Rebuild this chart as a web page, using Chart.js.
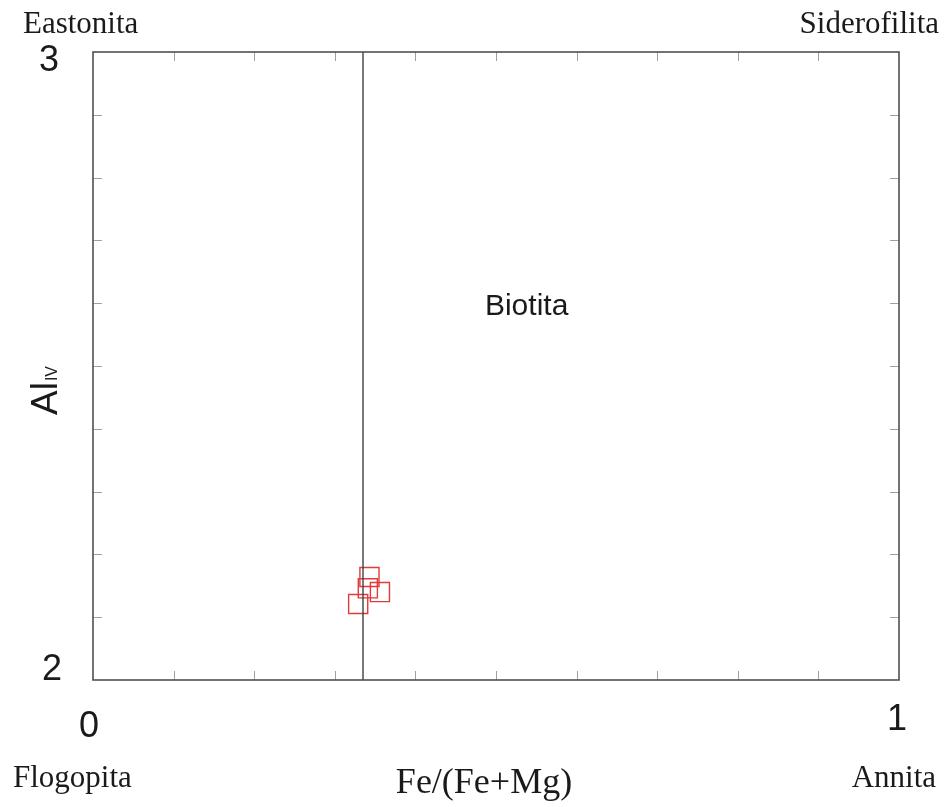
<!DOCTYPE html>
<html>
<head>
<meta charset="utf-8">
<script src="https://cdn.jsdelivr.net/npm/chart.js@4.4.1/dist/chart.umd.min.js"></script>
<style>
  html, body { margin: 0; padding: 0; background: #fff; }
  #wrap { width: 949px; height: 807px; }
</style>
</head>
<body>
<div id="wrap"><canvas id="chartBiotita" width="949" height="807"></canvas></div>
<script>
const feRatio = [0.343, 0.341, 0.356, 0.329];
const alIV = [2.164, 2.146, 2.140, 2.121];
const dividerX = [0.335, 0.335];
const dividerY = [2, 3];
const xTicks = [0.1, 0.2, 0.3, 0.4, 0.5, 0.6, 0.7, 0.8, 0.9];
const yTicks = [2.1, 2.2, 2.3, 2.4, 2.5, 2.6, 2.7, 2.8, 2.9];
const xTickLabels = ['0', '1'];
const yTickLabels = ['2', '3'];
const fieldLabel = 'Biotita';
const fieldPos = [0.538, 2.594];

const frame = {
  id: 'frame',
  afterDatasetsDraw(chart) {
    const ctx = chart.ctx;
    const a = chart.chartArea;
    const xs = chart.scales.x;
    const ys = chart.scales.y;
    ctx.save();

    // ticks hacia adentro
    ctx.strokeStyle = '#a0a0a0';
    ctx.lineWidth = 1;
    ctx.beginPath();
    xTicks.forEach(function(v) {
      const px = Math.round(xs.getPixelForValue(v)) + 0.5;
      ctx.moveTo(px, a.top); ctx.lineTo(px, a.top + 9);
      ctx.moveTo(px, a.bottom); ctx.lineTo(px, a.bottom - 9);
    });
    yTicks.forEach(function(v) {
      const py = Math.round(ys.getPixelForValue(v)) + 0.5;
      ctx.moveTo(a.left, py); ctx.lineTo(a.left + 9, py);
      ctx.moveTo(a.right, py); ctx.lineTo(a.right - 9, py);
    });
    ctx.stroke();

    // marco
    ctx.strokeStyle = '#505050';
    ctx.lineWidth = 1.6;
    ctx.strokeRect(a.left, a.top, a.right - a.left, a.bottom - a.top);

    // números de los ejes
    ctx.fillStyle = '#1a1a1a';
    ctx.font = '36px "Liberation Sans", Arial, sans-serif';
    ctx.textAlign = 'center';
    ctx.textBaseline = 'middle';
    ctx.fillText(xTickLabels[0], xs.getPixelForValue(0) - 4, a.bottom + 47);
    ctx.fillText(xTickLabels[1], xs.getPixelForValue(1) - 2, a.bottom + 40);
    ctx.fillText(yTickLabels[0], a.left - 41, ys.getPixelForValue(2) - 10);
    ctx.fillText(yTickLabels[1], a.left - 44, ys.getPixelForValue(3) + 9);

    // campo
    ctx.font = '30px "Liberation Sans", Arial, sans-serif';
    ctx.fillText(fieldLabel, xs.getPixelForValue(fieldPos[0]), ys.getPixelForValue(fieldPos[1]));

    // esquinas
    ctx.font = '31px "Liberation Serif", "Times New Roman", serif';
    ctx.textBaseline = 'alphabetic';
    ctx.textAlign = 'left';
    ctx.fillText('Eastonita', 23, 33);
    ctx.fillText('Flogopita', 13, 787);
    ctx.textAlign = 'right';
    ctx.fillText('Siderofilita', 939, 33);
    ctx.fillText('Annita', 936, 787);

    // título eje x
    ctx.textAlign = 'center';
    ctx.font = '36px "Liberation Serif", "Times New Roman", serif';
    ctx.fillText('Fe/(Fe+Mg)', 484, 793);

    // título eje y: Al con subíndice IV
    ctx.translate(57, 415);
    ctx.rotate(-Math.PI / 2);
    ctx.textAlign = 'left';
    ctx.font = '37px "Liberation Sans", Arial, sans-serif';
    ctx.fillText('Al', 0, 0);
    const w = ctx.measureText('Al').width;
    ctx.font = '16px "Liberation Sans", Arial, sans-serif';
    ctx.fillText('IV', w + 1, 0);
    ctx.restore();
  }
};

const points = feRatio.map(function(v, i) { return { x: v, y: alIV[i] }; });
const divider = dividerX.map(function(v, i) { return { x: v, y: dividerY[i] }; });

new Chart(document.getElementById('chartBiotita'), {
  type: 'scatter',
  data: {
    datasets: [
      {
        type: 'line',
        data: divider,
        borderColor: '#404040',
        borderWidth: 1.4,
        pointRadius: 0,
        fill: false
      },
      {
        data: points,
        pointStyle: 'rect',
        pointRadius: 13.5,
        pointHoverRadius: 13.5,
        pointBorderWidth: 1.4,
        borderColor: '#e03a3a',
        backgroundColor: 'rgba(0,0,0,0)'
      }
    ]
  },
  options: {
    responsive: false,
    animation: false,
    layout: { padding: { left: 93, top: 52, right: 50, bottom: 127 } },
    plugins: { legend: { display: false }, tooltip: { enabled: false } },
    scales: {
      x: { type: 'linear', min: 0, max: 1, display: false },
      y: { type: 'linear', min: 2, max: 3, display: false }
    }
  },
  plugins: [frame]
});
</script>
</body>
</html>
